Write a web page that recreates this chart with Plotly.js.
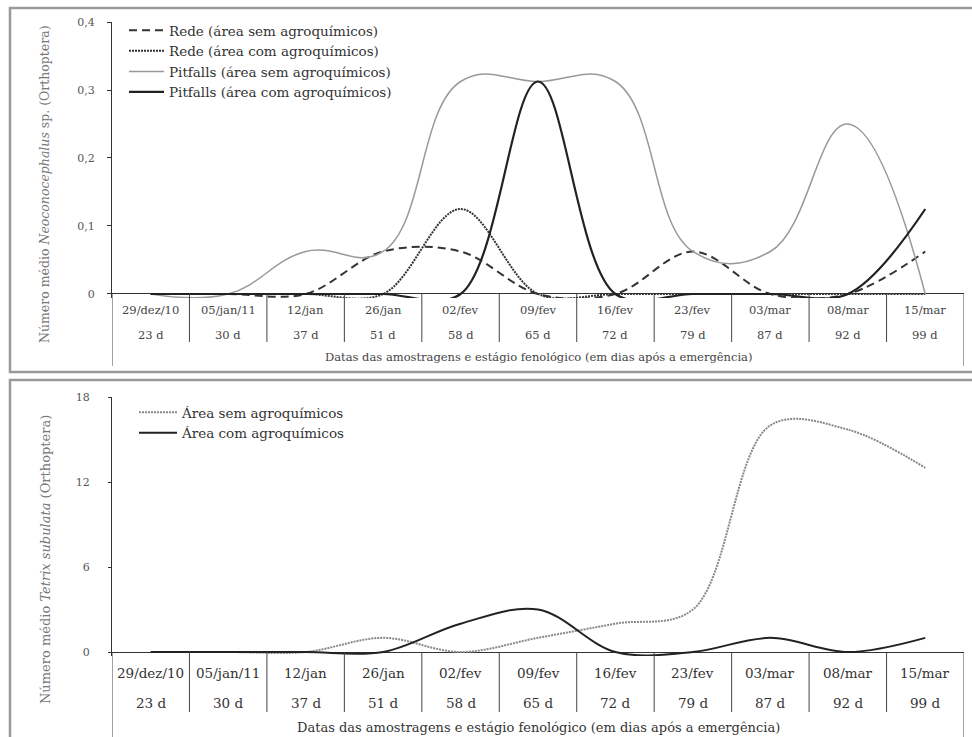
<!DOCTYPE html>
<html><head><meta charset="utf-8">
<script src="https://cdn.plot.ly/plotly-3.0.1.min.js"></script>
<style>html,body{margin:0;padding:0;background:#fff}#chart{width:972px;height:737px}</style>
</head><body><div id="chart"></div>
<script>
// ---- data ----
const dates = ['29/dez/10','05/jan/11','12/jan','26/jan','02/fev','09/fev','16/fev','23/fev','03/mar','08/mar','15/mar'];
const days = ['23 d','30 d','37 d','51 d','58 d','65 d','72 d','79 d','87 d','92 d','99 d'];
const redeSem = [0,0,0,0.0625,0.0625,0,0,0.0625,0,0,0.0625];
const redeCom = [0,0,0,0,0.125,0,0,0,0,0,0];
const pitSem  = [0,0,0.0625,0.0625,0.3125,0.3125,0.3125,0.0625,0.0625,0.25,0];
const pitCom  = [0,0,0,0,0,0.3125,0,0,0,0,0.125];
const tetrixSem = [0,0,0,1,0,1,2,3,16,15.7,13];
const tetrixCom = [0,0,0,0,2,3,0,0,1,0,1];
const yTicks1 = [0,0.1,0.2,0.3,0.4];
const yTickText1 = ['0','0,1','0,2','0,3','0,4'];
const yTicks2 = [0,6,12,18];
const names1 = ['Rede (área sem agroquímicos)','Rede (área com agroquímicos)','Pitfalls (área sem agroquímicos)','Pitfalls (área com agroquímicos)'];
const names2 = ['Área sem agroquímicos','Área com agroquímicos'];
const xTitle = 'Datas das amostragens e estágio fenológico (em dias após a emergência)';
const yTitle1 = 'Número médio <i>Neoconocephalus</i> sp. (Orthoptera)';
const yTitle2 = 'Número médio <i>Tetrix subulata</i> (Orthoptera)';

// ---- helpers ----
const W = 972, H = 737;
const px = x => x / W;
const py = y => 1 - y / H;
const FONT = 'DejaVu Serif, Liberation Serif, serif';
const DARK = '#222';

function tr(x, y, name, xa, ya, lg, line) {
  return {type:'scatter', mode:'lines', x:x, y:y, name:name, xaxis:xa, yaxis:ya, legend:lg,
    line:Object.assign({shape:'spline', smoothing:1}, line)};
}
const data = [
  tr(dates, redeSem, names1[0], 'x', 'y', 'legend', {color:'#333', width:2, dash:'8px,5px'}),
  tr(dates, redeCom, names1[1], 'x', 'y', 'legend', {color:'#333', width:2, dash:'2px,1px'}),
  tr(dates, pitSem,  names1[2], 'x', 'y', 'legend', {color:'#999', width:1.5, smoothing:1.2}),
  tr(dates, pitCom,  names1[3], 'x', 'y', 'legend', {color:DARK, width:2.2}),
  tr(dates, tetrixSem, names2[0], 'x2', 'y2', 'legend2', {color:'#888', width:2, dash:'2px,1px'}),
  tr(dates, tetrixCom, names2[1], 'x2', 'y2', 'legend2', {color:DARK, width:2})
];

const n = dates.length;
const shapes = [];
const annotations = [];
const lineStyle = {color:'#444', width:1};
// frames
shapes.push({type:'rect', xref:'paper', yref:'paper', x0:px(10), x1:px(990), y0:py(8), y1:py(372), line:{color:'#999', width:2.5}});
shapes.push({type:'rect', xref:'paper', yref:'paper', x0:px(10), x1:px(990), y0:py(380), y1:py(760), line:{color:'#999', width:2.5}});
// table: top panel
for (let i = 1; i < n; i++) {
  shapes.push({type:'line', xref:'x', yref:'paper', x0:i-0.5, x1:i-0.5, y0:py(294), y1:py(342), line:lineStyle});
}
shapes.push({type:'line', xref:'x', yref:'paper', x0:-0.5, x1:-0.5, y0:py(294), y1:py(366), line:lineStyle});
shapes.push({type:'line', xref:'x', yref:'paper', x0:n-0.5, x1:n-0.5, y0:py(294), y1:py(366), line:lineStyle});
// table: bottom panel
for (let i = 1; i < n; i++) {
  shapes.push({type:'line', xref:'x2', yref:'paper', x0:i-0.5, x1:i-0.5, y0:py(652), y1:py(712), line:lineStyle});
}
shapes.push({type:'line', xref:'x2', yref:'paper', x0:-0.5, x1:-0.5, y0:py(652), y1:py(740), line:lineStyle});
shapes.push({type:'line', xref:'x2', yref:'paper', x0:n-0.5, x1:n-0.5, y0:py(652), y1:py(740), line:lineStyle});

const cellFont1 = {family:FONT, size:11.5, color:'#444'};
const cellFont2 = {family:FONT, size:13.5, color:'#333'};
for (let i = 0; i < n; i++) {
  annotations.push({xref:'x', yref:'paper', x:dates[i], y:py(310), text:dates[i], showarrow:false, font:cellFont1, xanchor:'center', yanchor:'middle'});
  annotations.push({xref:'x', yref:'paper', x:dates[i], y:py(335), text:days[i], showarrow:false, font:cellFont1, xanchor:'center', yanchor:'middle'});
  annotations.push({xref:'x2', yref:'paper', x:dates[i], y:py(673), text:dates[i], showarrow:false, font:cellFont2, xanchor:'center', yanchor:'middle'});
  annotations.push({xref:'x2', yref:'paper', x:dates[i], y:py(703), text:days[i], showarrow:false, font:cellFont2, xanchor:'center', yanchor:'middle'});
}
annotations.push({xref:'paper', yref:'paper', x:px(538), y:py(357), text:xTitle, showarrow:false, font:{family:FONT, size:11.5, color:'#444'}, xanchor:'center', yanchor:'middle'});
annotations.push({xref:'paper', yref:'paper', x:px(538), y:py(727), text:xTitle, showarrow:false, font:{family:FONT, size:13, color:'#333'}, xanchor:'center', yanchor:'middle'});
annotations.push({xref:'paper', yref:'paper', x:px(45), y:py(184), text:yTitle1, textangle:-90, showarrow:false, font:{family:FONT, size:12.5, color:'#777'}, xanchor:'center', yanchor:'middle'});
annotations.push({xref:'paper', yref:'paper', x:px(45), y:py(560), text:yTitle2, textangle:-90, showarrow:false, font:{family:FONT, size:13, color:'#777'}, xanchor:'center', yanchor:'middle'});

const tickFont = {family:FONT, size:11, color:'#555'};
const xCommon = {type:'category', showticklabels:false, ticks:'', showgrid:false, zeroline:false, showline:false, range:[-0.5, n-0.5], fixedrange:true};
const layout = {
  width:W, height:H,
  margin:{l:0, r:0, t:0, b:0},
  paper_bgcolor:'#fff', plot_bgcolor:'rgba(0,0,0,0)',
  showlegend:true,
  xaxis: Object.assign({}, xCommon, {domain:[px(112), px(964)], anchor:'y'}),
  yaxis: {domain:[py(298), py(22)], range:[-0.0059, 0.4], anchor:'x', tickvals:yTicks1, ticktext:yTickText1,
          showline:true, linecolor:'#333', linewidth:1, ticks:'outside', ticklen:4, tickcolor:'#333',
          showgrid:false, zeroline:true, zerolinecolor:'#333', zerolinewidth:1, tickfont:tickFont, ticklabelstandoff:10},
  xaxis2: Object.assign({}, xCommon, {domain:[px(112), px(964)], anchor:'y2'}),
  yaxis2: {domain:[py(656), py(397)], range:[-0.282, 18], anchor:'x2', tickvals:yTicks2,
          showline:true, linecolor:'#333', linewidth:1, ticks:'outside', ticklen:3, tickcolor:'#333',
          showgrid:false, zeroline:true, zerolinecolor:'#333', zerolinewidth:1, tickfont:tickFont, ticklabelstandoff:16},
  legend: {x:px(124), y:py(15), xanchor:'left', yanchor:'top', bgcolor:'rgba(0,0,0,0)', borderwidth:0,
           font:{family:FONT, size:13.5, color:'#333'}, tracegroupgap:0, itemwidth:35},
  legend2: {x:px(134), y:py(397), xanchor:'left', yanchor:'top', bgcolor:'rgba(0,0,0,0)', borderwidth:0,
           font:{family:FONT, size:13.5, color:'#333'}, tracegroupgap:0, itemwidth:38},
  shapes:shapes,
  annotations:annotations
};
Plotly.newPlot('chart', data, layout, {displayModeBar:false, staticPlot:true});
</script>
</body></html>
